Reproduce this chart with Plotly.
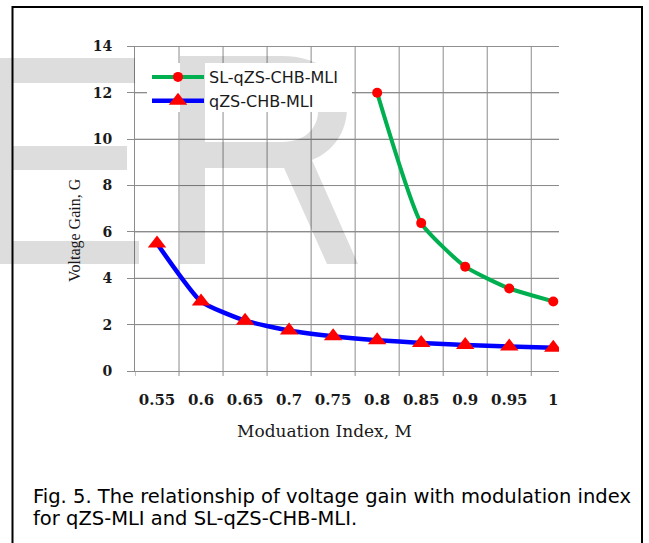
import plotly.graph_objects as go

# ---------------- data ----------------
m_values = [0.55, 0.60, 0.65, 0.70, 0.75, 0.80, 0.85, 0.90, 0.95, 1.00]
m_labels = ["0.55", "0.6", "0.65", "0.7", "0.75", "0.8", "0.85", "0.9", "0.95", "1"]
qzs_gain = [5.5, 3.0, 2.17, 1.75, 1.5, 1.33, 1.21, 1.12, 1.06, 1.0]
sl_m = [0.80, 0.85, 0.90, 0.95, 1.00]
sl_gain = [12.0, 6.38, 4.5, 3.56, 3.0]
y_ticks = [0, 2, 4, 6, 8, 10, 12, 14]

# ---------------- geometry ----------------
W, H = 649, 543
L, R, T, B = 135, 559, 46, 371
XR = [0.525, 1.0065]
YR = [0, 14.02]

# category boundaries (half-way between the category positions)
edges = [m_values[0] - (m_values[1] - m_values[0]) / 2] + \
        [(a + b) / 2 for a, b in zip(m_values, m_values[1:])]


def px(x):
    return (x - L) / (R - L)


def py(y):
    return (B - y) / (B - T)


def P(x, y):
    return f"{px(x):.5f},{py(y):.5f}"


GRID = "#8c8c8c"
WM = "rgba(0,0,0,0.135)"

fig = go.Figure()

# horizontal grid lines drawn as a plain line trace under the data
gx, gy = [], []
for v in y_ticks[1:]:
    gx += [XR[0], XR[1], None]
    gy += [v, v, None]
fig.add_trace(go.Scatter(x=gx, y=gy, mode="lines", line=dict(color=GRID, width=1),
                         hoverinfo="skip", showlegend=False))

fig.add_trace(go.Scatter(
    x=sl_m, y=sl_gain, name="SL-qZS-CHB-MLI", mode="lines+markers",
    line=dict(color="#00b050", width=4, shape="spline", smoothing=0.5),
    marker=dict(color="#ff0000", size=10, symbol="circle"),
    legendgroup="a",
))
fig.add_trace(go.Scatter(
    x=m_values, y=qzs_gain, name="qZS-CHB-MLI", mode="lines+markers",
    line=dict(color="#0000ff", width=4.5, shape="spline", smoothing=0.5),
    marker=dict(color="#ff0000", size=16, symbol="triangle-up"),
    legendgroup="b",
))

shapes = []
# vertical grid lines and tick marks at the category boundaries
for e in edges[1:]:
    shapes.append(dict(type="line", xref="x", yref="y", x0=e, x1=e, y0=YR[0], y1=YR[1],
                       line=dict(color=GRID, width=1), layer="between"))
for e in edges:
    shapes.append(dict(type="line", xref="x", yref="paper", x0=e, x1=e,
                       y0=py(B), y1=py(B + 5), line=dict(color=GRID, width=1), layer="above"))

# watermark (translucent grey letters)
e_path = (f"M{P(0,58)} L{P(135,58)} L{P(135,83)} L{P(12,83)} L{P(12,146)} L{P(127,146)} "
          f"L{P(127,170)} L{P(12,170)} L{P(12,241)} L{P(139,241)} L{P(139,264)} L{P(0,264)} Z")
r_path = (f"M{P(180,56)} L{P(282,56)} C{P(323,56)} {P(347,80)} {P(347,108)} "
          f"C{P(347,132)} {P(333,152)} {P(312,160)} L{P(358,264)} L{P(327,264)} L{P(284,168)} "
          f"L{P(205,168)} L{P(205,264)} L{P(180,264)} Z "
          f"M{P(205,82)} L{P(205,142)} L{P(282,142)} C{P(305,142)} {P(318,128)} {P(318,111)} "
          f"C{P(318,95)} {P(305,82)} {P(282,82)} Z")
for pth in (e_path, r_path):
    shapes.append(dict(type="path", path=pth, xref="paper", yref="paper",
                       fillcolor=WM, line=dict(width=0), layer="above"))
# legend backing
shapes.append(dict(type="rect", xref="paper", yref="paper", x0=px(147), x1=px(352),
                   y0=py(112), y1=py(63), fillcolor="white", line=dict(width=0), layer="above"))
shapes.append(dict(type="rect", xref="paper", yref="paper", x0=px(180), x1=px(205),
                   y0=py(112), y1=py(63), fillcolor="#dddddd", line=dict(width=0), layer="above"))
# frame
shapes.append(dict(type="rect", xref="paper", yref="paper", x0=px(12.5), x1=px(642),
                   y0=py(570), y1=py(7), line=dict(color="black", width=2), layer="above"))

annotations = [
    dict(text="Voltage Gain, G", textangle=-90, xref="paper", yref="paper",
         x=px(75), y=py(230), xanchor="center", yanchor="middle", showarrow=False,
         font=dict(family="Liberation Serif", size=16, color="#1a1a1a")),
    dict(text="Moduation Index, M", xref="paper", yref="paper",
         x=px(324), y=py(431), xanchor="center", yanchor="middle", showarrow=False,
         font=dict(family="DejaVu Serif", size=17, color="#1a1a1a")),
    dict(text="Fig. 5. The relationship of voltage gain with modulation index", xref="paper", yref="paper",
         x=px(31), y=py(497), xanchor="left", yanchor="middle", showarrow=False,
         font=dict(family="DejaVu Sans", size=19.5, color="black")),
    dict(text="for qZS-MLI and SL-qZS-CHB-MLI.", xref="paper", yref="paper",
         x=px(31), y=py(518), xanchor="left", yanchor="middle", showarrow=False,
         font=dict(family="DejaVu Sans", size=19.5, color="black")),
]

fig.update_layout(
    width=W, height=H,
    margin=dict(l=L, r=W - R, t=T, b=H - B, pad=0),
    paper_bgcolor="white", plot_bgcolor="white",
    showlegend=True,
    legend=dict(x=px(147), y=py(60), xanchor="left", yanchor="top",
                bgcolor="rgba(0,0,0,0)", borderwidth=0, itemwidth=52,
                tracegroupgap=0, traceorder="grouped",
                font=dict(family="DejaVu Sans", size=16, color="#1a1a1a")),
    xaxis=dict(range=XR, tickmode="array", tickvals=m_values, ticktext=m_labels,
               ticks="", tickangle=0, showgrid=False, zeroline=False,
               showline=True, linecolor=GRID, linewidth=1,
               tickfont=dict(family="DejaVu Serif", size=15, color="#1a1a1a", weight="bold"),
               ticklabelstandoff=15),
    yaxis=dict(range=YR, tickmode="array", tickvals=y_ticks, ticks="outside", ticklen=7,
               tickcolor=GRID, tickwidth=1, showgrid=True, gridcolor=GRID, gridwidth=1,
               zeroline=False, showline=True, linecolor=GRID, linewidth=1,
               tickfont=dict(family="DejaVu Serif", size=14, color="#1a1a1a", weight="bold"),
               ticklabelstandoff=12),
    shapes=shapes,
    annotations=annotations,
)

fig.write_html("out.html")
